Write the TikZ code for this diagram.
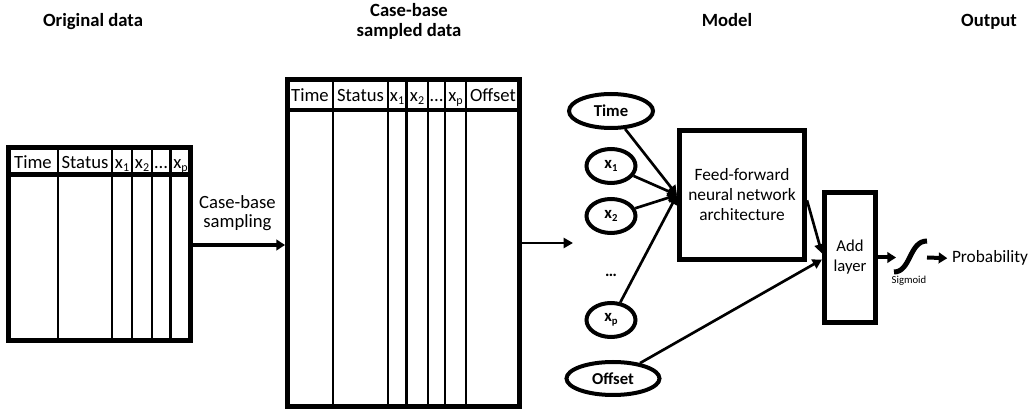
\documentclass[tikz,border=0pt]{standalone}
\usepackage{fontspec}
\setmainfont{Carlito}
\usetikzlibrary{arrows.meta,shapes.geometric}
\newcommand\mysub[2][9]{\raisebox{-0.3ex}{\fontsize{#1}{#1}\selectfont #2}}
\begin{document}
\begin{tikzpicture}[x=0.75pt,y=-0.75pt,
  txt/.style={inner sep=0pt, outer sep=0pt},
  ttl/.style={txt, font=\fontsize{14}{15}\selectfont\bfseries, anchor=base},
  cell/.style={txt, font=\fontsize{14}{16}\selectfont, anchor=base},
  tablebox/.style={draw, line width=3.75pt, inner sep=0pt},
  hdrline/.style={line width=3.4pt},
  colline/.style={line width=1.7pt},
  ell/.style={draw, ellipse, line width=3pt, inner sep=0pt, font=\fontsize{12.5}{14}\selectfont\bfseries},
  blockbox/.style={draw, line width=3.75pt, inner sep=0pt, align=center},
  conn/.style={line width=2pt, -{Triangle[length=7pt,width=7.5pt]}},
  thk/.style={line width=3pt, -{Triangle[length=6.5pt,width=8pt]}},
  sig/.style={line width=3.75pt}
]
\useasboundingbox (0,0) rectangle (1029,409);

% headers
\node[ttl] (hOrig) at (93,27) {Original data};
\node[txt, font=\fontsize{14}{15}\selectfont\bfseries, align=center] (hCase) at (409,21) {Case-base\\sampled data};
\node[ttl] (hModel) at (727,27) {Model};
\node[ttl] (hOut) at (989,27) {Output};

% original data table
\node[tablebox, minimum width=136.5pt, minimum height=144.75pt] (T1) at (99.5,244) {};
\draw[hdrline] (8.5,174.5) -- (190.5,174.5);
\foreach \cx in {58,112,132,152,170.5}
  \draw[colline] (\cx,147.5) -- (\cx,340.5);
\node[cell] (t1a) at (33,169) {Time};
\node[cell] (t1b) at (85,169) {Status};
\node[cell] (t1c) at (122,169) {x\mysub{1}};
\node[cell] (t1d) at (142,169) {x\mysub{2}};
\node[cell] (t1e) at (161,169) {…};
\node[cell] (t1f) at (180.5,169) {x\mysub{p}};

% case-base sampled table
\node[tablebox, minimum width=174pt, minimum height=244.9pt] (T2) at (403.5,243.25) {};
\draw[hdrline] (287.5,110) -- (519.5,110);
\foreach \cx in {333,388,406.5,428,445,466}
  \draw[colline] (\cx,80) -- (\cx,406.5);
\node[cell] (t2a) at (310,102) {Time};
\node[cell] (t2b) at (360.5,102) {Status};
\node[cell] (t2c) at (397,102) {x\mysub{1}};
\node[cell] (t2d) at (417,102) {x\mysub{2}};
\node[cell] (t2e) at (436.5,102) {…};
\node[cell] (t2f) at (455.5,102) {x\mysub{p}};
\node[cell] (t2g) at (493,102) {Offset};

% sampling arrow
\node[txt, font=\fontsize{14}{14.5}\selectfont, align=center] (lblCBS) at (237.5,213) {Case-base\\sampling};
\coordinate (arrY) at (0,245);
\draw[thk] (T1.east |- arrY) -- (T2.west |- arrY);

% model inputs
\node[ell, minimum width=63pt, minimum height=25.5pt] (Time) at (611,111) {Time};
\node[ell, minimum width=36.75pt, minimum height=25.5pt] (X1) at (611,166) {x\mysub[8]{1}};
\node[ell, minimum width=36.75pt, minimum height=25.5pt] (X2) at (611,216) {x\mysub[8]{2}};
\node[txt, font=\fontsize{12.5}{14}\selectfont\bfseries, anchor=base] (dots) at (611,277) {…};
\node[ell, minimum width=36.75pt, minimum height=25.5pt] (Xp) at (611,320) {x\mysub[8]{p}};
\node[ell, minimum width=69.75pt, minimum height=24.75pt] (Off) at (613,378.5) {Offset};

\coordinate (dotsIn) at (573,243);
\draw[conn] (T2.east |- dotsIn) -- (dotsIn);

% network
\node[blockbox, minimum width=93.75pt, minimum height=96.75pt, font=\fontsize{13}{15}\selectfont] (FF) at (742,195) {Feed-forward\\neural network\\architecture};
\node[blockbox, minimum width=38.25pt, minimum height=97.5pt, font=\fontsize{12.5}{15}\selectfont] (Add) at (850,257.5) {Add\\layer};

\draw[conn] (Time) -- (FF.west);
\draw[conn] (X1) -- (FF.west);
\draw[conn] (X2) -- (FF.west);
\draw[conn] (Xp) -- (FF.west);
\draw[conn] ([yshift=-4pt]FF.east) -- ([yshift=3pt]Add.west);
\draw[conn] (Off) -- ([yshift=-1.5pt]Add.west);

% output
\coordinate (sigL) at (896,257.5);
\coordinate (sigR) at (927,257.5);
\draw[sig] (894,272) .. controls (911,272) and (909,241) .. (927,241);
\node[txt, font=\fontsize{8}{9}\selectfont] (sigLbl) at (909,281) {Sigmoid};
\node[txt, font=\fontsize{13}{15}\selectfont, anchor=base west] (Prob) at (952,263) {Probability};
\draw[thk] (Add.east) -- (sigL);
\draw[thk, shorten >=3.5pt] (sigR) -- (Prob.west);
\end{tikzpicture}
\end{document}
